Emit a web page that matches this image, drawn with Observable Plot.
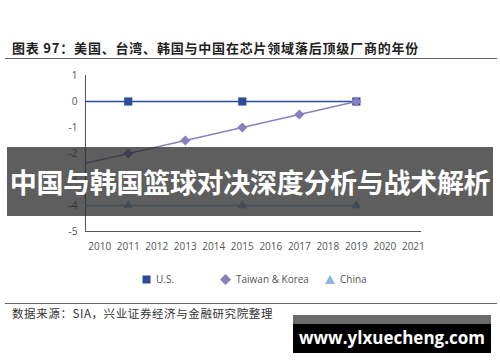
<!DOCTYPE html>
<html>
<head>
<meta charset="utf-8">
<script src="https://cdn.jsdelivr.net/npm/d3@7"></script>
<script src="https://cdn.jsdelivr.net/npm/@observablehq/plot@0.6"></script>
<style>
  html, body { margin: 0; padding: 0; background: #fff; }
  #wrap { position: relative; width: 500px; height: 362px; overflow: hidden; font-family: "Open Sans", sans-serif; }
  #chart { position: absolute; left: 0; top: 0; }
  .title { position: absolute; left: 12px; top: 38px; font-family: "Noto Sans CJK SC", serif; font-weight: 700; font-size: 13px; letter-spacing: 0.8px; color: #222; white-space: nowrap; }
  .hr { position: absolute; left: 5px; width: 492px; height: 1px; background: #666; }
  .source { position: absolute; left: 12px; top: 305px; font-family: "Noto Sans CJK SC", serif; font-size: 11.5px; letter-spacing: 0.6px; color: #333; white-space: nowrap; }
  .legend { position: absolute; top: 272px; font-size: 10px; color: #555; display: flex; align-items: center; white-space: nowrap; }
  .legend svg { margin-right: 5px; }
  .banner { position: absolute; left: 7px; top: 147px; width: 486px; height: 69px; background: rgba(40,40,40,0.75); }
  .bannerText { position: absolute; left: 0; top: 147px; width: 500px; height: 69px; line-height: 69px; text-align: center; color: #fff; font-family: "Noto Sans CJK SC", sans-serif; font-weight: 700; font-size: 27px; letter-spacing: -0.3px; white-space: nowrap; }
  .wm { position: absolute; left: 293px; top: 315px; width: 198px; height: 38px; background: #000; }
  .wmTop { position: absolute; left: 293px; top: 315px; width: 198px; height: 9px; background: #6a6a6a; }
  .wmText { position: absolute; left: 293px; top: 324px; width: 198px; height: 29px; line-height: 27px; text-align: center; color: #fff; font-family: "Open Sans", sans-serif; font-weight: 700; font-size: 17px; }
</style>
</head>
<body>
<div id="wrap"></div>
<script>
// ---- data ----
const titleText = "图表 97：美国、台湾、韩国与中国在芯片领域落后顶级厂商的年份";
const sourceText = "数据来源：SIA，兴业证券经济与金融研究院整理";
const bannerText = "中国与韩国篮球对决深度分析与战术解析";
const watermarkText = "www.ylxuecheng.com";

const seriesNames = ["U.S.", "Taiwan & Korea", "China"];
const seriesColors = ["#2b4c9b", "#8a80bb", "#8fb6de"];
const seriesSymbols = ["square", "diamond2", "triangle2"];

const usYears = [2011, 2015, 2019];
const usValues = [0, 0, 0];
const tkYears = [2011, 2013, 2015, 2017, 2019];
const tkValues = [-2, -1.5, -1, -0.5, 0];
const cnYears = [2011, 2015, 2019];
const cnValues = [-4, -4, -4];

// where the plotted lines begin (at the y axis)
const lineStartYear = 2009.5;
const lineStartValues = [0, -2.375, -4];

const xTicks = [2010, 2011, 2012, 2013, 2014, 2015, 2016, 2017, 2018, 2019, 2020, 2021];
const yTicks = [1, 0, -1, -2, -3, -4, -5];

// ---- build tables ----
const seriesYears = [usYears, tkYears, cnYears];
const seriesValues = [usValues, tkValues, cnValues];
const points = [];
const lines = [];
seriesNames.forEach((name, i) => {
  lines.push({series: name, year: lineStartYear, value: lineStartValues[i]});
  seriesYears[i].forEach((yr, j) => {
    const p = {series: name, year: yr, value: seriesValues[i][j]};
    points.push(p);
    lines.push(p);
  });
});

const plot = Plot.plot({
  width: 500,
  height: 362,
  marginLeft: 85,
  marginRight: 80,
  marginTop: 75,
  marginBottom: 131,
  style: {fontFamily: "Open Sans, sans-serif", fontSize: "10px", color: "#555", background: "transparent"},
  x: {domain: [2009.5, 2021.25], ticks: xTicks, tickFormat: "d", tickSize: 0, tickPadding: 11, line: true, label: null},
  y: {domain: [-5, 1], ticks: yTicks, tickFormat: d => String(d), tickSize: 0, tickPadding: 8, line: true, label: null},
  color: {domain: seriesNames, range: seriesColors},
  symbol: {domain: seriesNames, range: seriesSymbols},
  marks: [
    Plot.line(lines, {x: "year", y: "value", z: "series", stroke: "series", strokeWidth: 1.4}),
    Plot.dot(points, {x: "year", y: "value", fill: "series", symbol: "series", r: 4.6, stroke: "none"})
  ]
});
plot.id = "chart";
const wrap = document.getElementById("wrap");
wrap.appendChild(plot);

function add(cls, text, extra) {
  const d = document.createElement("div");
  d.className = cls;
  if (text) d.textContent = text;
  if (extra) Object.assign(d.style, extra);
  wrap.appendChild(d);
  return d;
}
add("title", titleText);
add("hr", null, {top: "58px"});
add("hr", null, {top: "303px"});
add("source", sourceText);

// legend
const legendX = [142, 220, 325];
const legendSvg = [
  '<svg width="9" height="9"><rect x="0.5" y="0.5" width="8" height="8" fill="' + seriesColors[0] + '"/></svg>',
  '<svg width="11" height="11"><path d="M5.5 0 L11 5.5 L5.5 11 L0 5.5Z" fill="' + seriesColors[1] + '"/></svg>',
  '<svg width="10" height="9"><path d="M5 0 L10 9 L0 9Z" fill="' + seriesColors[2] + '"/></svg>'
];
seriesNames.forEach((name, i) => {
  const d = add("legend", null, {left: legendX[i] + "px"});
  d.innerHTML = legendSvg[i] + "<span>" + name.replace("&", "&amp;") + "</span>";
});

add("banner");
add("bannerText", bannerText);
add("wm");
add("wmTop");
add("wmText", watermarkText);

// darken axis lines
plot.querySelectorAll("g[aria-label='x-axis'] path.domain, g[aria-label='y-axis'] path.domain").forEach(p => { p.setAttribute("stroke", "#333"); p.setAttribute("stroke-width", "1.5"); });
</script>
</body>
</html>
